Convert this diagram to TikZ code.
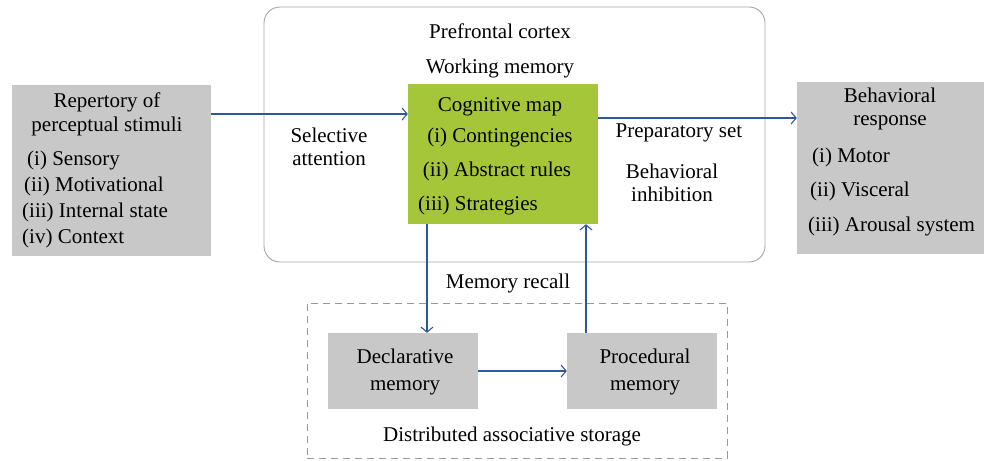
\documentclass[tikz,border=0pt]{standalone}
\usepackage{fontspec}
\setmainfont{Liberation Serif}
\usetikzlibrary{arrows.meta}
\usetikzlibrary{positioning}
\definecolor{flowblue}{RGB}{46,88,156}
\definecolor{boxgray}{RGB}{200,200,200}
\definecolor{mapgreen}{RGB}{166,198,58}
\tikzset{
  graybox/.style={fill=boxgray, draw=none, inner sep=0pt},
  flow/.style={draw=flowblue, line width=1.1pt, -{Straight Barb[length=5pt,width=12pt,line width=1.1pt]}},
  lbl/.style={inner sep=0pt, anchor=base, yshift=-6pt, font=\fontsize{21}{24}\selectfont},
  lbll/.style={lbl, anchor=base west},
}

\begin{document}
\begin{tikzpicture}[x=1pt,y=-1pt]
  \useasboundingbox (0,0) rectangle (984,460);

  % outer frames
  \node[draw=gray!70, line width=0.9pt, rounded corners=16pt, minimum width=501pt, minimum height=255pt, inner sep=0pt] (pfc) at (514.5,134.5) {};
  \node[draw=gray!80, line width=0.9pt, dash pattern=on 7pt off 5pt, minimum width=420pt, minimum height=155pt, inner sep=0pt] (store) at (517,380.5) {};

  % boxes
  \node[graybox, minimum width=199pt, minimum height=171pt] (stim) at (111.5,170.5) {};
  \node[fill=mapgreen, inner sep=0pt, minimum width=190pt, minimum height=140pt] (cog) at (503,154) {};
  \node[graybox, minimum width=187pt, minimum height=172pt] (resp) at (890.5,168) {};
  \node[graybox, minimum width=150pt, minimum height=76pt] (decl) at (403,371) {};
  \node[graybox, minimum width=150pt, minimum height=76pt] (proc) at (642,371) {};

  % texts
  \node[lbl] (pfcA) at (500,33) {Prefrontal cortex};
  \node[lbl] (pfcB) at (500,68) {Working memory};

  \node[lbl] (stimA) at (107,101) {Repertory of};
  \node[lbl] (stimB) at (107,125) {perceptual stimuli};
  \foreach \t/\y/\x [count=\i] in {(i) Sensory/159/27, (ii) Motivational/185/24, (iii) Internal state/211/22, (iv) Context/237/22}
    \node[lbll] (stimI\i) at (\x,\y) {\t};

  \node[lbl] (cogA) at (500,105) {Cognitive map};
  \node[lbl] (cogB) at (500,136) {(i) Contingencies};
  \node[lbl] (cogC) at (497,170) {(ii) Abstract rules};
  \node[lbll] (cogD) at (418,204) {(iii) Strategies};

  \node[lbl] (respA) at (890,96) {Behavioral};
  \node[lbl] (respB) at (890,119) {response};
  \foreach \t/\y/\x [count=\i] in {(i) Motor/156/812, (ii) Visceral/190/810, (iii) Arousal system/225/808}
    \node[lbll] (respI\i) at (\x,\y) {\t};

  \node[lbl] (selA) at (329,136) {Selective};
  \node[lbl] (selB) at (329,159) {attention};
  \node[lbl] (prep) at (679,131) {Preparatory set};
  \node[lbl] (inhA) at (672,172) {Behavioral};
  \node[lbl] (inhB) at (672,195) {inhibition};
  \node[lbl] (recall) at (508,282) {Memory recall};

  \node[lbl] (declA) at (405,357) {Declarative};
  \node[lbl] (declB) at (405,384) {memory};
  \node[lbl] (procA) at (645,357) {Procedural};
  \node[lbl] (procB) at (645,384) {memory};
  \node[lbl] (storeL) at (512,435) {Distributed associative storage};

  % connectors
  \draw[flow] (stim.east |- 0,114) -- (cog.west |- 0,114);
  \draw[flow] (cog.east |- 0,118) -- (resp.west |- 0,118);
  \draw[flow] (cog.south -| 427,0) -- (decl.north -| 427,0);
  \draw[flow] (proc.north -| 586,0) -- (cog.south -| 586,0);
  \draw[flow] (decl.east) -- (proc.west);

\end{tikzpicture}
\end{document}
